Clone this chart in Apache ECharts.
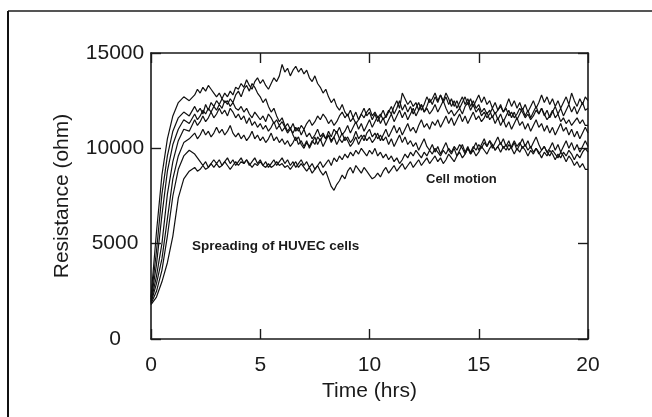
<!DOCTYPE html>
<html>
<head>
<meta charset="utf-8">
<script src="https://cdn.jsdelivr.net/npm/echarts@6/dist/echarts.min.js"></script>
<style>
  html, body { margin: 0; padding: 0; background: #fff; }
  #chart { width: 652px; height: 417px; }
</style>
</head>
<body>
<div id="chart"></div>
<script>
// sampling times (hrs): every 0.25 h during spreading, every 0.125 h after
const times = [
  0, 0.25, 0.5, 0.75, 1, 1.25, 1.5, 1.75,
  2, 2.125, 2.25, 2.375, 2.5, 2.625, 2.75, 2.875,
  3, 3.125, 3.25, 3.375, 3.5, 3.625, 3.75, 3.875,
  4, 4.125, 4.25, 4.375, 4.5, 4.625, 4.75, 4.875,
  5, 5.125, 5.25, 5.375, 5.5, 5.625, 5.75, 5.875,
  6, 6.125, 6.25, 6.375, 6.5, 6.625, 6.75, 6.875,
  7, 7.125, 7.25, 7.375, 7.5, 7.625, 7.75, 7.875,
  8, 8.125, 8.25, 8.375, 8.5, 8.625, 8.75, 8.875,
  9, 9.125, 9.25, 9.375, 9.5, 9.625, 9.75, 9.875,
  10, 10.125, 10.25, 10.375, 10.5, 10.625, 10.75, 10.875,
  11, 11.125, 11.25, 11.375, 11.5, 11.625, 11.75, 11.875,
  12, 12.125, 12.25, 12.375, 12.5, 12.625, 12.75, 12.875,
  13, 13.125, 13.25, 13.375, 13.5, 13.625, 13.75, 13.875,
  14, 14.125, 14.25, 14.375, 14.5, 14.625, 14.75, 14.875,
  15, 15.125, 15.25, 15.375, 15.5, 15.625, 15.75, 15.875,
  16, 16.125, 16.25, 16.375, 16.5, 16.625, 16.75, 16.875,
  17, 17.125, 17.25, 17.375, 17.5, 17.625, 17.75, 17.875,
  18, 18.125, 18.25, 18.375, 18.5, 18.625, 18.75, 18.875,
  19, 19.125, 19.25, 19.375, 19.5, 19.625, 19.75, 19.875,
  20
]

// resistance (ohm) of each well, one row per hour after the first two
const well1 = [
  2200, 5600, 8600, 10500, 11700, 12400, 12700, 12500,
  12800, 13100, 12900, 13200, 13000, 13300, 13100, 12900,
  12700, 12900, 12600, 12400, 12500, 12200, 12400, 12100,
  12000, 12200, 11900, 12100, 11800, 11600, 11900, 11700,
  11500, 11700, 11400, 11800, 11600, 11300, 11500, 11200,
  11400, 11100, 11300, 11000, 10800, 11100, 10900, 11200,
  11000, 11300, 11500, 11200, 11400, 11700, 11500, 11800,
  11600, 11300, 11500, 11200, 11400, 11700, 11900, 11600,
  11800, 11400, 11600, 11300, 11500, 11800, 11600, 11900,
  12100, 11700, 11900, 11600, 11800, 11500, 11700, 12000,
  11800, 12200, 12500, 12100, 12900, 12600, 12300, 12500,
  12200, 12400, 12000, 12300, 11900, 12100, 11800, 12000,
  12300, 11900, 12200, 12500, 12100, 11800, 12000, 11700,
  11900, 12100, 11800, 12200, 12400, 12000, 12300, 11900,
  12100, 11700, 11900, 11600, 11800, 12100, 11800, 12000,
  12200, 11900, 12100, 11700, 11900, 11600, 11800, 12100,
  11900, 11600, 11800, 11500, 11700, 12000, 11800, 12100,
  11800, 11500, 11700, 12000, 11600, 11800, 11400, 11600,
  11300, 11500, 11200, 11400, 11600, 11300, 11500, 11200,
  11200
]
const well2 = [
  2100, 4600, 7600, 9600, 10900, 11600, 11900, 11700,
  12200, 11900, 12100, 11800, 12300, 12000, 12400, 12200,
  12500, 12300, 12600, 12900, 12700, 13000, 12800, 13200,
  13100, 13400, 13200, 13600, 13300, 13100, 13500, 13700,
  13400, 13600, 13300, 13100, 13400, 13700, 13500, 13800,
  14400, 14000, 14200, 13800, 14100, 14300, 14000, 14200,
  13900, 14100, 13700, 13500, 13800, 13400, 13200, 12900,
  13100, 12700, 12400, 12600, 12200, 12000, 12300, 11900,
  11700, 12000, 11600, 11900, 11500, 11800, 12100, 11700,
  11900, 11500, 11800, 11400, 11700, 12000, 11600, 11900,
  12200, 11800, 12100, 12500, 12000, 12300, 11900, 12200,
  11800, 12100, 12400, 12000, 12300, 12700, 12400, 12600,
  12900, 12500, 12800, 12400, 12700, 12300, 12600, 12200,
  12500, 12100, 12400, 12700, 12300, 12600, 12200, 12500,
  12800, 12400, 12700, 12300, 12500, 12100, 12400, 12000,
  12300, 11900, 12200, 12600, 12200, 12500, 12100, 12400,
  12000, 12300, 11900, 12200, 12500, 12100, 12400, 12800,
  12400, 12700, 12300, 12600, 12200, 12500, 12100, 12400,
  12700, 12300, 12900, 12500, 12200, 12600, 12300, 12700,
  12500
]
const well3 = [
  2000, 3900, 6500, 8800, 10200, 11000, 11500, 11300,
  11800, 11500, 11700, 12000, 11800, 12100, 11900, 12200,
  12000, 12300, 12100, 12500, 12300, 12600, 12400, 12800,
  13000, 12700, 13100, 13300, 13000, 13400, 13200, 12900,
  12700, 12400, 12600, 12200, 11900, 12100, 11700, 11400,
  11600, 11200, 10900, 11100, 10700, 10400, 10600, 10200,
  10000, 10300, 10100, 10400, 10200, 10600, 10400, 10700,
  10500, 10900, 10600, 11000, 10800, 11100, 10700, 10900,
  11200, 10800, 11100, 11400, 11000, 11300, 10900, 11200,
  11500, 11100, 11400, 11700, 11300, 11600, 11200, 11500,
  11800, 11400, 11700, 12000, 11600, 11900, 11500, 11800,
  12100, 11700, 12000, 12300, 11900, 12200, 12600, 12300,
  12700, 12400, 12800, 12500, 12900, 12600, 12200, 12500,
  12100, 12400, 12700, 12300, 12600, 12200, 12500, 12100,
  12300, 11900, 12100, 11800, 12000, 11600, 11900, 11500,
  11800, 11400, 11700, 12000, 11600, 11900, 11500, 11800,
  12100, 11700, 12000, 11600, 11900, 12200, 11800, 12100,
  11700, 12000, 11600, 11900, 12200, 11800, 12100, 11700,
  12000, 12300, 11900, 12200, 11800, 12100, 12400, 12000,
  12100
]
const well4 = [
  1950, 3300, 5000, 7600, 9300, 10400, 11000, 10900,
  11500, 11200, 11400, 11700, 11400, 11600, 11900, 11600,
  11800, 12100, 11800, 12000, 11700, 12100, 11900, 11600,
  11800, 11500, 11700, 11300, 11600, 11200, 11400, 11100,
  11300, 11000, 11200, 10900, 11100, 11400, 11000, 11200,
  10900, 11100, 10800, 11000, 11300, 10900, 11100, 10700,
  11000, 10600, 10800, 10500, 10700, 11000, 10600, 10800,
  10500, 10700, 10400, 10600, 10900, 10500, 10300, 10600,
  10400, 10100, 10300, 10600, 10200, 10500, 10700, 10400,
  10600, 10300, 10500, 10800, 10400, 10700, 11000, 10600,
  10900, 11200, 10800, 11100, 10700, 11000, 11300, 10900,
  11100, 10800, 11200, 11500, 11100, 11300, 11000, 11400,
  11200, 11500, 11100, 11400, 11700, 11300, 11600, 11200,
  11500, 11800, 11400, 11700, 11300, 11600, 11900, 11500,
  11700, 11400, 11600, 11900, 11500, 11700, 11300, 11600,
  11200, 11500, 11100, 11400, 11000, 11300, 11600, 11200,
  11400, 11000, 11300, 10900, 11200, 11500, 11100, 11300,
  10900, 11200, 10800, 11100, 10700, 11000, 11300, 10900,
  11100, 10700, 11000, 10600, 10900, 10500, 10800, 11100,
  10800
]
const well5 = [
  1900, 2900, 4200, 6300, 8400, 9600, 10300, 10500,
  10800, 10500, 10700, 11000, 10700, 10900, 10600, 10800,
  11100, 10800, 11000, 10700, 10900, 11200, 10800, 10600,
  10800, 10500, 10700, 10400, 10600, 10900, 10500, 10700,
  10400, 10600, 10300, 10500, 10800, 10400, 10600, 10300,
  10500, 10200, 10400, 10100, 10300, 10600, 10200, 10400,
  10100, 10400, 10000, 10300, 10600, 10200, 10500, 10100,
  10400, 10700, 10300, 10600, 10200, 10500, 10800, 10400,
  10600, 10300, 10500, 10900, 10500, 10700, 10400, 10800,
  11000, 10600, 10800, 10500, 10700, 10400, 10600, 10200,
  10500, 10100, 10400, 10700, 10300, 10600, 10200, 10400,
  10100, 10300, 9900, 10200, 10500, 10100, 9900, 10200,
  9800, 10100, 9700, 10000, 10300, 9900, 9700, 10000,
  9600, 9900, 10200, 9800, 10100, 9700, 10000, 10300,
  9900, 10200, 10500, 10100, 10400, 10000, 10300, 10600,
  10200, 10500, 10100, 10400, 10000, 10300, 9900, 10200,
  10500, 10100, 10400, 10000, 10300, 10600, 10200, 9900,
  10100, 9800, 10000, 10300, 9900, 10200, 9800, 10100,
  10400, 10000, 10300, 9900, 10200, 9800, 10100, 10400,
  10100
]
const well6 = [
  1850, 2500, 3600, 5400, 7500, 8900, 9600, 9900,
  9700, 9500, 9300, 9100, 9300, 9000, 9200, 9400,
  9200, 9400, 9100, 9300, 9500, 9200, 9400, 9100,
  9300, 9500, 9200, 9400, 9100, 9300, 9500, 9200,
  9400, 9100, 9300, 9000, 9200, 9400, 9100, 9300,
  9500, 9200, 9400, 9100, 9300, 9000, 9200, 9400,
  9100, 9300, 9000, 9200, 8900, 9100, 9300, 9000,
  9200, 9400, 9100, 9500, 9300, 9600, 9400, 9700,
  9500, 9800, 9600, 9900, 9700, 10000, 9800, 9600,
  9900, 9700, 10000, 9600, 9800, 9500, 9700, 9400,
  9600, 9300, 9500, 9200, 9400, 9700, 9500, 9800,
  9600, 9900, 9700, 9500, 9800, 9600, 9900, 9700,
  10000, 9800, 9600, 9900, 9700, 10000, 9800, 10100,
  9900, 10200, 10000, 9700, 10000, 9800, 10100, 9900,
  10200, 10000, 10300, 10100, 10400, 10200, 9900, 10100,
  9800, 10100, 9900, 10200, 10000, 9700, 10000, 9800,
  10100, 9900, 9600, 9900, 9700, 10000, 9800, 9500,
  9800, 9600, 9900, 9700, 9400, 9700, 9500, 9800,
  9600, 9900, 9700, 9400, 9700, 9500, 9800, 10000,
  9800
]
const well7 = [
  1800, 2200, 3000, 4000, 5400, 7400, 8400, 8800,
  9000, 8800, 8900, 9100, 8900, 9000, 9200, 9000,
  9200, 9000, 9100, 9300, 9100, 8900, 9100, 9300,
  9100, 9300, 9200, 9400, 9200, 9000, 9200, 9100,
  9300, 9100, 9000, 9200, 9000, 9100, 9300, 9100,
  9200, 9000, 9100, 8900, 9100, 9300, 9000, 9200,
  9000, 8800, 9000, 8700, 8900, 9100, 8800, 8600,
  8800, 8400, 8000, 7800, 8100, 8300, 8600, 8400,
  8800, 9000, 8700, 9100, 8900, 8700, 9000, 8800,
  8600, 8400, 8500, 8700, 8500, 8800, 9000, 8700,
  8900, 9100, 8800, 9000, 9200, 8900, 9100, 9300,
  9000, 9200, 9400, 9100, 9300, 9500, 9200, 9400,
  9600, 9300, 9500, 9200, 9400, 9700, 9500, 9300,
  9600, 9800, 9500, 9700, 10000, 9700, 9900, 9600,
  9800, 10100, 9900, 9700, 10000, 10200, 9900, 10100,
  10300, 10000, 10200, 9900, 10100, 10400, 10100, 10300,
  10000, 10200, 9900, 10100, 9800, 10000, 9700, 9900,
  10100, 9800, 9600, 9900, 9700, 9500, 9800, 9600,
  9300, 9600, 9400, 9100, 9300, 9000, 9200, 8900,
  8900
]
const wells = [well1, well2, well3, well4, well5, well6, well7]

const xTicks = [0, 5, 10, 15, 20]
const yTicks = [0, 5000, 10000, 15000]

const FONT = "'Liberation Sans', Arial, sans-serif"
const INK = '#1a1a1a'

const chart = echarts.init(document.getElementById('chart'))

// shared look of the frame axes (ticks point inward on all four sides)
const frameAxis = {
  axisLine: { show: true, onZero: false, lineStyle: { color: INK, width: 1.6 } },
  axisTick: { show: true, inside: true, length: 10, lineStyle: { color: INK, width: 1.4 } },
  splitLine: { show: false }
}

chart.setOption({
  backgroundColor: '#fff',
  animation: false,
  grid: { left: 151, right: 64, top: 53, bottom: 78 },
  xAxis: [
    {
      type: 'value',
      min: xTicks[0],
      max: xTicks[xTicks.length - 1],
      interval: 5,
      name: 'Time (hrs)',
      nameLocation: 'middle',
      nameGap: 42,
      nameTextStyle: { fontFamily: FONT, fontSize: 21, color: INK },
      axisLabel: { margin: 16, fontFamily: FONT, fontSize: 21, color: INK },
      ...frameAxis
    },
    {
      type: 'value',
      position: 'top',
      min: xTicks[0],
      max: xTicks[xTicks.length - 1],
      interval: 5,
      axisLabel: { show: false },
      ...frameAxis
    }
  ],
  yAxis: [
    {
      type: 'value',
      min: yTicks[0],
      max: yTicks[yTicks.length - 1],
      interval: 5000,
      name: 'Resistance (ohm)',
      nameLocation: 'middle',
      nameGap: 78,
      nameTextStyle: { fontFamily: FONT, fontSize: 21, color: INK },
      axisLabel: {
        margin: 36, align: 'center', fontFamily: FONT, fontSize: 21, color: INK,
        formatter: v => String(v)
      },
      ...frameAxis
    },
    {
      type: 'value',
      position: 'right',
      min: yTicks[0],
      max: yTicks[yTicks.length - 1],
      interval: 5000,
      axisLabel: { show: false },
      ...frameAxis
    }
  ],
  series: wells.map((w, i) => ({
    name: 'well ' + (i + 1),
    type: 'line',
    showSymbol: false,
    data: w.map((v, k) => [times[k], v]),
    lineStyle: { color: '#111', width: 1.2 }
  })),
  graphic: [
    // page frame (top and left edges only)
    { type: 'line', shape: { x1: 8, y1: 11, x2: 652, y2: 11 }, style: { stroke: '#555', lineWidth: 2 } },
    { type: 'line', shape: { x1: 8, y1: 11, x2: 8, y2: 417 }, style: { stroke: '#111', lineWidth: 2 } },
    // annotations
    {
      type: 'text', left: 192, top: 239,
      style: { text: 'Spreading of HUVEC cells', font: "bold 13.5px " + FONT, fill: INK }
    },
    {
      type: 'text', left: 426, top: 173,
      style: { text: 'Cell motion', font: "bold 13px " + FONT, fill: INK }
    }
  ]
})
</script>
</body>
</html>
